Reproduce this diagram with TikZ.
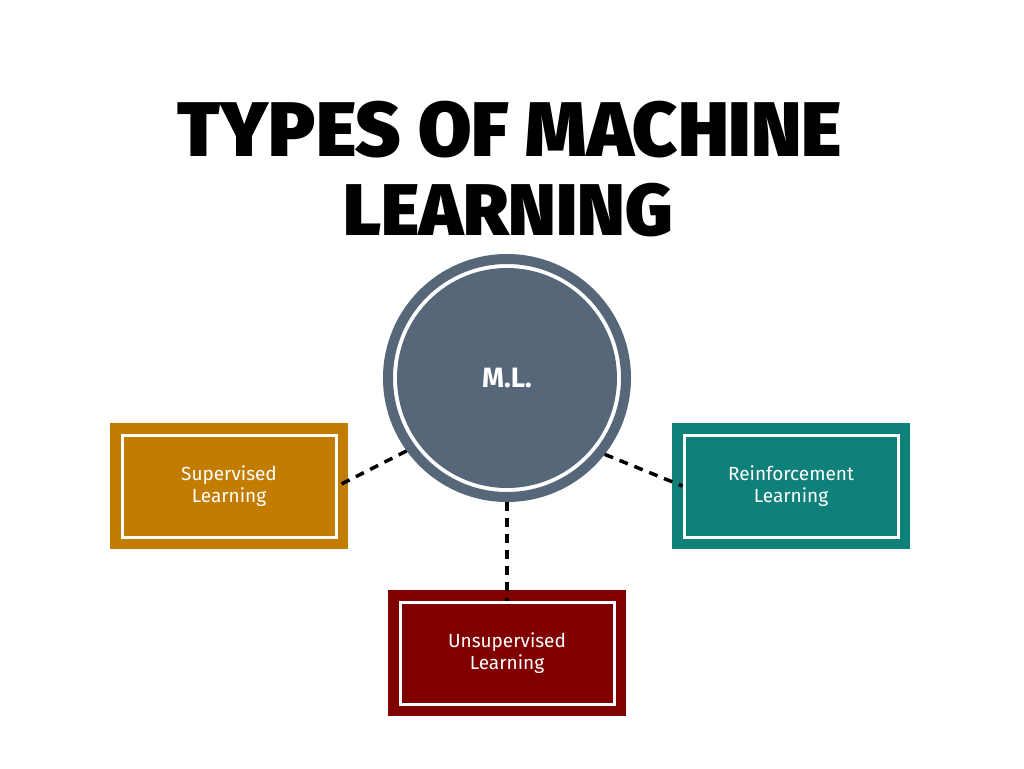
\documentclass[tikz,border=0pt]{standalone}
\usepackage{fontspec}
\setmainfont{Fira Sans}
\newfontfamily\titlefont{Fira Sans Black}
\definecolor{mlc}{HTML}{566779}
\definecolor{supc}{HTML}{C27C00}
\definecolor{rlc}{HTML}{10807A}
\definecolor{ulc}{HTML}{800000}
\begin{document}
\begin{tikzpicture}[x=1pt,y=-1pt,
  lbl/.style={text=white,font=\fontsize{19}{22}\selectfont,align=center},
  box/.style={rectangle,draw=white,line width=3,fill=#1,minimum width=214,minimum height=102,preaction={draw=#1,line width=24},lbl},
  conn/.style={line width=3.5,dash pattern=on 9 off 7}]
\useasboundingbox (0,0) rectangle (1024,768);
\node[font=\titlefont\fontsize{72}{80}\selectfont, align=center] (t1) at (510,130) {\resizebox{664pt}{!}{TYPES OF MACHINE}};
\node[font=\titlefont\fontsize{72}{80}\selectfont] (t2) at (508,210) {\resizebox{330pt}{!}{LEARNING}};
\node[circle,draw=mlc,line width=10,fill=white,minimum size=238,inner sep=0] (ml) at (507,378) {};
\node[circle,fill=mlc,minimum size=220,inner sep=0,text=white,font=\bfseries\fontsize{28}{30}\selectfont] (mlin) at (507,378) {M.L.};
\node[box=supc] (sup) at (229,486) {Supervised\\Learning};
\node[box=rlc] (rl) at (791,486) {Reinforcement\\Learning};
\node[box=ulc] (ul) at (507,653) {Unsupervised\\Learning};
\draw[conn] (ml.216) -- (sup.east);
\draw[conn] (ml.-38) -- (rl.west);
\draw[conn] (ml.south) -- (ul.north);
\end{tikzpicture}
\end{document}
